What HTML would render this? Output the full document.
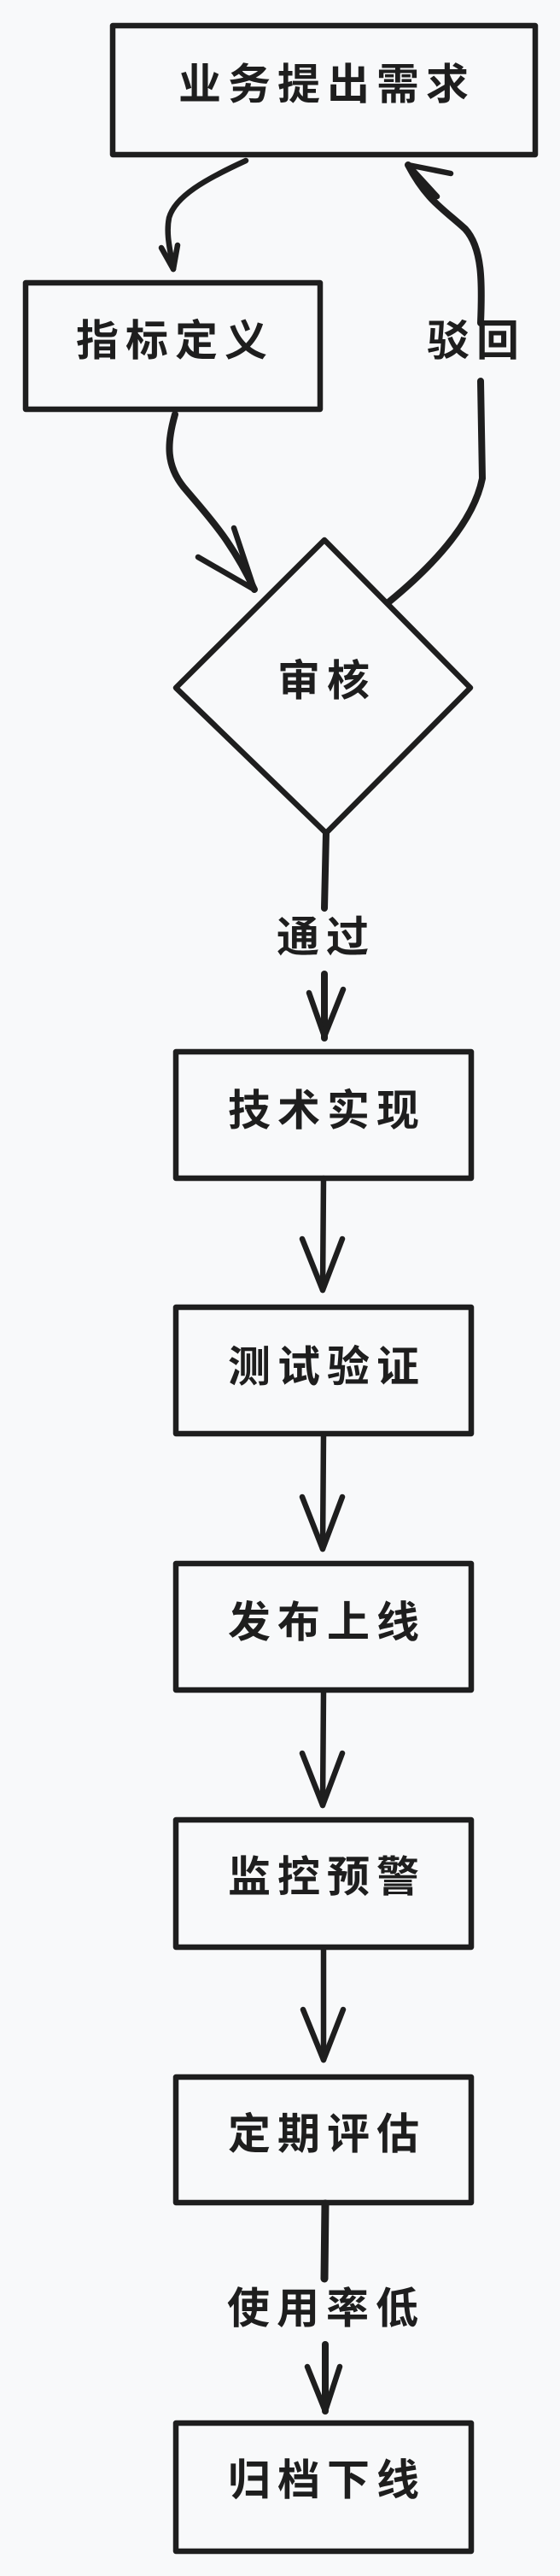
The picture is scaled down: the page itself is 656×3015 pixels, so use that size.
<!DOCTYPE html>
<html><head><meta charset="utf-8"><style>
html,body{margin:0;padding:0;background:#f8f9fa;}
svg{display:block;}
text{font-family:"Liberation Sans","WenQuanYi Zen Hei","Noto Sans CJK SC",sans-serif;font-size:50px;font-weight:bold;fill:#1e1e1e;letter-spacing:8px;text-anchor:middle;dominant-baseline:central;}
</style></head><body>
<svg width="656" height="3015" viewBox="0 0 656 3015" xmlns="http://www.w3.org/2000/svg">
<rect width="656" height="3015" fill="#f8f9fa"/>
<g fill="none" stroke="#1e1e1e" stroke-width="6.5" stroke-linecap="round" stroke-linejoin="round">
<rect x="132" y="30" width="495" height="151"/>
<rect x="30" y="331" width="345" height="148"/>
<polygon points="380,632 206,805 382,975 551,805"/>
<rect x="206" y="1231" width="346" height="148"/>
<rect x="206" y="1530" width="346" height="148"/>
<rect x="206" y="1830" width="346" height="148"/>
<rect x="206" y="2130" width="346" height="149"/>
<rect x="206" y="2431" width="346" height="147"/>
<rect x="206" y="2836" width="346" height="150"/>
<path d="M288,188 C240,210 205,230 198,255 C194,275 200,295 203,315"/>
<path d="M189,290 L203,315 L208,287"/>
<path d="M205,485 C195,520 195,545 215,570 C240,600 270,630 298,690" stroke-width="8"/>
<path d="M232,652 L298,690 L274,618"/>
<path d="M455,705 C510,660 555,610 565,560 L563,446" stroke-width="8"/>
<path d="M563,378 C565,330 565,290 545,268 C520,245 500,235 478,193" stroke-width="8"/>
<path d="M512,230 L478,193 L528,203"/>
<path d="M382,975 L380,1063" stroke-width="8"/>
<path d="M380,1140 L380,1215" stroke-width="8"/>
<path d="M362,1162 L380,1213 L402,1158"/>
<path d="M379,1379 L378,1510"/><path d="M354,1450 L378,1510 L401,1450"/>
<path d="M379,1679 L378,1813"/><path d="M354,1752 L378,1813 L401,1752"/>
<path d="M379,1979 L378,2113"/><path d="M354,2052 L378,2113 L401,2052"/>
<path d="M379,2280 L379,2411"/><path d="M355,2352 L379,2411 L402,2352"/>
<path d="M381,2579 L380,2667" stroke-width="9"/>
<path d="M381,2744 L381,2822" stroke-width="8"/><path d="M360,2770 L381,2822 L398,2770"/>
</g>
<text x="383" y="99">业务提出需求</text>
<text x="205" y="399">指标定义</text>
<text x="383" y="797">审核</text>
<text x="558" y="399">驳回</text>
<text x="382" y="1097">通过</text>
<text x="383" y="1300">技术实现</text>
<text x="383" y="1600">测试验证</text>
<text x="383" y="1899">发布上线</text>
<text x="383" y="2197">监控预警</text>
<text x="383" y="2498">定期评估</text>
<text x="382" y="2702">使用率低</text>
<text x="383" y="2903">归档下线</text>
</svg>
</body></html>
